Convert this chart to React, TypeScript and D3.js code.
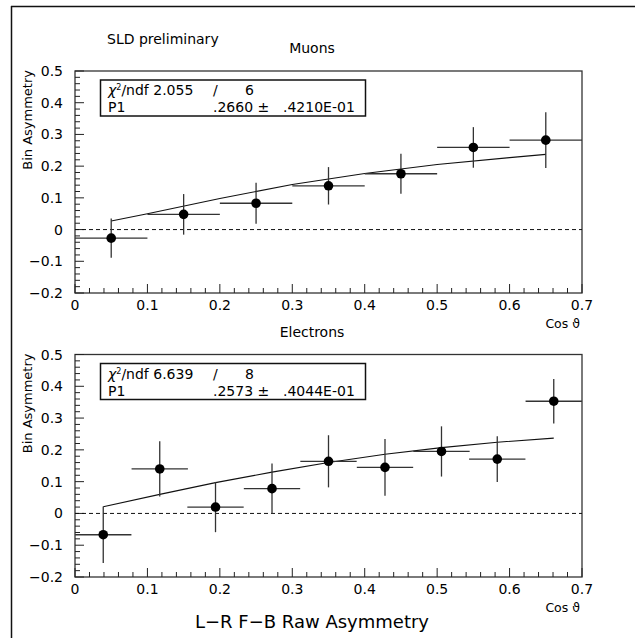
import React from "react";
import * as d3 from "d3";

// ---- data ----
const muX = [0.05, 0.15, 0.25, 0.35, 0.45, 0.55, 0.65];
const muHalfW = [0.05, 0.05, 0.05, 0.05, 0.05, 0.05, 0.05];
const muY = [-0.027, 0.048, 0.083, 0.138, 0.176, 0.259, 0.282];
const muErr = [0.062, 0.064, 0.065, 0.059, 0.063, 0.064, 0.088];
const muFitX = [0.05, 0.1, 0.2, 0.3, 0.4, 0.5, 0.6, 0.65];
const muFitY = [0.027, 0.05, 0.098, 0.142, 0.177, 0.205, 0.227, 0.237];

const elX = [0.039, 0.117, 0.194, 0.272, 0.35, 0.428, 0.506, 0.583, 0.661];
const elHalfW = [0.0389, 0.0389, 0.0389, 0.0389, 0.0389, 0.0389, 0.0389, 0.0389, 0.0389];
const elY = [-0.067, 0.14, 0.02, 0.078, 0.164, 0.145, 0.195, 0.171, 0.353];
const elErr = [0.089, 0.087, 0.079, 0.079, 0.082, 0.089, 0.079, 0.072, 0.07];
const elFitX = [0.039, 0.117, 0.194, 0.272, 0.35, 0.428, 0.506, 0.583, 0.661];
const elFitY = [0.021, 0.06, 0.097, 0.13, 0.16, 0.186, 0.207, 0.224, 0.237];

const xTicks = [0, 0.1, 0.2, 0.3, 0.4, 0.5, 0.6, 0.7];
const yTicks = [-0.2, -0.1, 0, 0.1, 0.2, 0.3, 0.4, 0.5];

const FONT = "'DejaVu Sans', Verdana, sans-serif";

function fmtTick(v: number) {
  if (Math.abs(v) < 1e-9) return "0";
  const s = Math.abs(v).toFixed(1);
  return (v < 0 ? "\u2212" : "") + s;
}

type PanelProps = {
  top: number;
  bottom: number;
  title: string;
  xs: number[];
  hw: number[];
  ys: number[];
  errs: number[];
  fitX: number[];
  fitY: number[];
  chi: string;
  ndf: string;
  p1: string;
  p1err: string;
};

function Panel(p: PanelProps) {
  const x = d3.scaleLinear().domain([0, 0.7]).range([75, 582]);
  const y = d3.scaleLinear().domain([-0.2, 0.5]).range([p.bottom, p.top]);
  const minorX = d3.range(0, 0.7001, 0.02);
  const minorY = d3.range(-0.2, 0.5001, 0.02);
  const line = d3
    .line<number>()
    .x((_, i) => x(p.fitX[i]))
    .y((d) => y(d));
  const boxTop = p.top + 9;
  return (
    <g>
      <text x={312} y={p.top - 18} fontFamily={FONT} fontSize={14} textAnchor="middle">
        {p.title}
      </text>
      {/* frame */}
      <rect x={x(0)} y={p.top} width={x(0.7) - x(0)} height={p.bottom - p.top} fill="none" stroke="#333" strokeWidth={1.3} />
      {/* ticks */}
      {minorX.map((t, i) => {
        const major = Math.abs(t * 10 - Math.round(t * 10)) < 1e-6;
        return (
          <line key={"mx" + i} x1={x(t)} x2={x(t)} y1={p.bottom} y2={p.bottom - (major ? 9 : 5)} stroke="#222" strokeWidth={1} />
        );
      })}
      {minorY.map((t, i) => {
        const major = Math.abs(t * 10 - Math.round(t * 10)) < 1e-6;
        return (
          <line key={"my" + i} x1={x(0)} x2={x(0) + (major ? 9 : 5)} y1={y(t)} y2={y(t)} stroke="#222" strokeWidth={1} />
        );
      })}
      {xTicks.map((t) => (
        <text key={"xt" + t} x={x(t)} y={p.bottom + 17} fontFamily={FONT} fontSize={14} textAnchor="middle">
          {fmtTick(t)}
        </text>
      ))}
      {yTicks.map((t) => (
        <text key={"yt" + t} x={63} y={y(t) + 5} fontFamily={FONT} fontSize={14} textAnchor="end">
          {fmtTick(t)}
        </text>
      ))}
      <text
        transform={`translate(${32},${p.top - 1}) rotate(-90)`}
        fontFamily={FONT}
        fontSize={13}
        textAnchor="end"
      >
        Bin Asymmetry
      </text>
      <text x={580} y={p.bottom + 35} fontFamily={FONT} fontSize={12.5} textAnchor="end">
        Cos {"\u03D1"}
      </text>
      {/* zero line */}
      <line x1={x(0)} x2={x(0.7)} y1={y(0)} y2={y(0)} stroke="#111" strokeWidth={1} strokeDasharray="4,3" />
      {/* fit */}
      <path d={line(p.fitY) || ""} fill="none" stroke="#111" strokeWidth={1.1} />
      {/* data */}
      {p.xs.map((xv, i) => (
        <g key={"pt" + i}>
          <line x1={x(xv - p.hw[i])} x2={x(xv + p.hw[i])} y1={y(p.ys[i])} y2={y(p.ys[i])} stroke="#333" strokeWidth={1.3} />
          <line x1={x(xv)} x2={x(xv)} y1={y(p.ys[i] - p.errs[i])} y2={y(p.ys[i] + p.errs[i])} stroke="#333" strokeWidth={1.3} />
          <circle cx={x(xv)} cy={y(p.ys[i])} r={4.8} fill="#000" />
        </g>
      ))}
      {/* stats box */}
      <rect x={100.5} y={boxTop} width={265} height={36} fill="#fff" stroke="#111" strokeWidth={1.5} />
      <text x={108} y={boxTop + 15} fontFamily={FONT} fontSize={14}>
        <tspan fontStyle="italic">{"\u03C7"}</tspan>
        <tspan dy={-5} fontSize={8}>2</tspan>
        <tspan dy={5}>/ndf {p.chi}</tspan>
      </text>
      <text x={213} y={boxTop + 15} fontFamily={FONT} fontSize={14}>/</text>
      <text x={245} y={boxTop + 15} fontFamily={FONT} fontSize={14}>{p.ndf}</text>
      <text x={108} y={boxTop + 32} fontFamily={FONT} fontSize={14}>P1</text>
      <text x={213} y={boxTop + 32} fontFamily={FONT} fontSize={14}>{p.p1} {"\u00B1"}</text>
      <text x={283} y={boxTop + 32} fontFamily={FONT} fontSize={14}>{p.p1err}</text>
    </g>
  );
}

export default function App() {
  return (
    <svg
      width={635}
      height={638}
      style={{ position: "absolute", left: 0, top: 0, background: "#fff" }}
    >
      <rect x={0} y={0} width={635} height={638} fill="#fff" />
      <line x1={11.5} x2={11.5} y1={6} y2={638} stroke="#111" strokeWidth={1.5} />
      <line x1={11} x2={635} y1={6.5} y2={6.5} stroke="#111" strokeWidth={1.5} />
      <text x={107} y={44} fontFamily={FONT} fontSize={14}>
        SLD preliminary
      </text>
      <Panel
        top={71}
        bottom={293}
        title="Muons"
        xs={muX}
        hw={muHalfW}
        ys={muY}
        errs={muErr}
        fitX={muFitX}
        fitY={muFitY}
        chi="2.055"
        ndf="6"
        p1=".2660"
        p1err=".4210E-01"
      />
      <Panel
        top={354.5}
        bottom={577}
        title="Electrons"
        xs={elX}
        hw={elHalfW}
        ys={elY}
        errs={elErr}
        fitX={elFitX}
        fitY={elFitY}
        chi="6.639"
        ndf="8"
        p1=".2573"
        p1err=".4044E-01"
      />
      <text x={312} y={628} fontFamily={FONT} fontSize={18} textAnchor="middle">
        L{"\u2212"}R F{"\u2212"}B Raw Asymmetry
      </text>
    </svg>
  );
}
